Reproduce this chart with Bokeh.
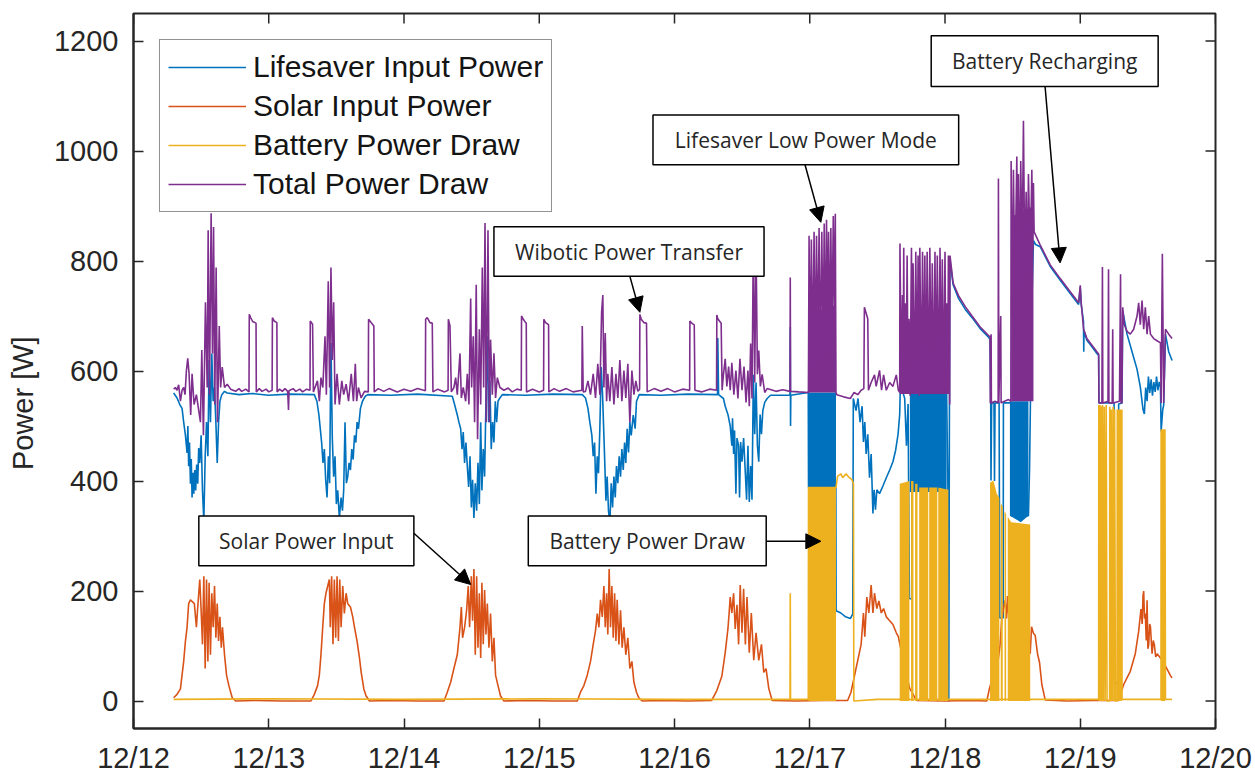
import math
from bokeh.plotting import figure
from bokeh.models import (Range1d, FixedTicker, Legend, LegendItem,
                          Label, BoxAnnotation, Arrow, NormalHead)
from bokeh.embed import file_html
from bokeh.resources import INLINE

NAN = float("nan")

# ---------------- axes / labels ----------------
tick_days = [0, 1, 2, 3, 4, 5, 6, 7, 8]
tick_labels = ["12/12", "12/13", "12/14", "12/15", "12/16", "12/17", "12/18", "12/19", "12/20"]
y_ticks = [0, 200, 400, 600, 800, 1000, 1200]
y_label = "Power [W]"
x_lim = (0, 8)
y_lim = (-50, 1250)

series_names = ["Lifesaver Input Power", "Solar Input Power", "Battery Power Draw", "Total Power Draw"]
series_colors = ["#0072BD", "#D95319", "#EDB120", "#7E2F8E"]

# ---------------- data: (days since 12/12 00:00, watts) ----------------
life_pts = [
    (0.297, 560), (0.322, 551), (0.342, 539), (0.359, 532), (0.371, 507), (0.384, 483), (0.396, 451),
    (0.402, 500), (0.408, 427), (0.414, 470), (0.421, 395), (0.427, 440), (0.433, 370), (0.440, 415),
    (0.446, 377), (0.453, 420), (0.460, 383), (0.467, 430), (0.475, 395), (0.482, 460), (0.490, 433),
    (0.500, 483), (0.510, 383), (0.520, 327), (0.530, 445), (0.540, 507), (0.550, 445), (0.559, 620),
    (0.569, 507), (0.579, 632), (0.589, 545), (0.599, 570), (0.609, 507), (0.619, 433), (0.629, 507),
    (0.639, 545), (0.653, 557), (0.673, 563), (0.693, 560), (0.780, 557), (0.880, 559), (1.000, 556),
    (1.150, 558), (1.337, 557),
    (1.356, 545), (1.371, 520), (1.381, 495), (1.391, 470), (1.401, 433), (1.411, 458), (1.421, 402),
    (1.431, 370), (1.441, 445), (1.450, 396), (1.460, 651), (1.470, 477), (1.480, 408), (1.490, 445),
    (1.500, 358), (1.510, 383), (1.522, 333), (1.535, 370), (1.545, 346), (1.554, 383), (1.564, 507),
    (1.574, 396), (1.584, 408), (1.594, 433), (1.604, 420), (1.614, 458), (1.624, 439), (1.634, 483),
    (1.644, 470), (1.653, 507), (1.663, 495), (1.678, 532), (1.693, 545), (1.713, 554), (1.733, 557),
    (1.900, 556), (2.100, 558),
    (2.357, 554), (2.374, 539), (2.394, 520), (2.406, 507), (2.419, 495), (2.429, 458), (2.438, 489),
    (2.448, 433), (2.458, 470), (2.468, 427), (2.478, 389), (2.488, 445), (2.498, 352), (2.507, 402),
    (2.517, 333), (2.527, 396), (2.537, 346), (2.547, 433), (2.557, 358), (2.567, 507), (2.576, 383),
    (2.586, 458), (2.596, 408), (2.606, 545), (2.616, 663), (2.626, 507), (2.635, 582), (2.645, 458),
    (2.655, 507), (2.665, 470), (2.675, 545), (2.685, 507), (2.695, 545), (2.709, 551), (2.727, 557),
    (2.900, 556), (3.100, 558),
    (3.318, 557), (3.342, 551), (3.360, 532), (3.374, 507), (3.389, 483), (3.399, 445), (3.409, 470),
    (3.419, 377), (3.429, 445), (3.438, 414), (3.448, 495), (3.458, 607), (3.468, 557), (3.483, 445),
    (3.493, 364), (3.502, 408), (3.512, 346), (3.522, 321), (3.532, 396), (3.542, 352), (3.552, 408),
    (3.562, 370), (3.571, 427), (3.581, 396), (3.591, 445), (3.601, 408), (3.611, 458), (3.621, 420),
    (3.631, 470), (3.640, 433), (3.650, 495), (3.660, 452), (3.670, 507), (3.680, 483), (3.695, 520),
    (3.709, 495), (3.719, 545), (3.729, 551), (3.739, 557), (3.900, 556), (4.100, 558),
    (4.318, 557), (4.320, 660), (4.326, 557), (4.362, 550), (4.375, 536), (4.395, 521), (4.412, 500),
    (4.424, 464), (4.429, 514), (4.437, 449), (4.444, 492), (4.454, 377), (4.462, 478), (4.474, 464),
    (4.481, 370), (4.489, 471), (4.499, 435), (4.511, 478), (4.524, 413), (4.533, 366), (4.543, 464),
    (4.553, 362), (4.563, 427), (4.573, 366), (4.583, 593), (4.593, 485), (4.603, 579), (4.613, 464),
    (4.623, 435), (4.633, 521), (4.643, 485), (4.653, 528), (4.667, 543), (4.685, 550), (4.710, 556),
    (4.854, 556), (4.856, 680), (4.858, 500), (4.860, 556), (4.989, 561),
    (4.991, 388), (5.193, 388), (5.195, 164), (5.230, 160), (5.265, 153), (5.300, 150), (5.318, 158),
    (5.322, 550), (5.342, 528), (5.357, 550), (5.372, 507), (5.387, 536), (5.397, 471), (5.407, 507),
    (5.417, 449), (5.429, 485), (5.442, 406), (5.454, 449), (5.467, 341), (5.476, 384), (5.486, 348),
    (5.496, 384), (5.516, 377), (5.541, 391), (5.566, 406), (5.591, 420), (5.615, 435), (5.635, 456),
    (5.653, 485), (5.665, 521), (5.677, 651), (5.690, 560), (5.702, 550), (5.715, 464), (5.727, 540),
    (5.737, 186), (5.755, 186), (5.757, 560), (5.764, 561), (6.012, 561), (6.022, 380), (6.025, 0),
    (6.028, 0), (6.035, 805), (6.060, 757), (6.100, 732), (6.150, 712), (6.200, 697), (6.260, 677),
    (6.320, 662), (6.333, 657), (6.338, 542), (6.340, 401), (6.345, 542), (6.362, 542), (6.366, 400),
    (6.370, 542), (6.400, 542), (6.405, 151), (6.430, 151), (6.432, 542), (6.488, 542), (6.489, 337),
    (6.617, 337), (6.625, 420), (6.640, 700), (6.654, 837), (6.670, 830), (6.704, 826), (6.778, 790),
    (6.852, 765), (6.926, 741), (6.988, 721), (7.000, 752), (7.007, 721), (7.024, 690), (7.026, 635),
    (7.028, 673), (7.049, 656), (7.074, 648), (7.123, 632), (7.136, 628), (7.138, 542),
    (7.250, 542), (7.252, 38), (7.270, 32), (7.282, 30), (7.284, 540), (7.309, 542), (7.314, 708),
    (7.321, 700), (7.346, 667), (7.383, 635), (7.420, 603), (7.444, 571), (7.464, 530), (7.474, 522),
    (7.484, 570), (7.494, 545), (7.504, 590), (7.514, 560), (7.524, 585), (7.534, 555), (7.544, 580),
    (7.554, 562), (7.564, 590), (7.574, 565), (7.584, 580), (7.593, 571), (7.598, 490), (7.610, 530),
    (7.617, 538), (7.630, 667), (7.654, 635), (7.679, 619),
]

solar_pts = [
    (0.297, 6), (0.322, 12), (0.347, 22), (0.359, 47), (0.371, 72), (0.384, 109), (0.396, 134),
    (0.408, 177), (0.421, 184), (0.433, 181), (0.450, 177), (0.465, 134), (0.475, 171), (0.490, 221),
    (0.500, 165), (0.510, 103), (0.520, 227), (0.530, 59), (0.540, 221), (0.550, 72), (0.559, 215),
    (0.569, 84), (0.579, 196), (0.589, 134), (0.599, 209), (0.609, 115), (0.619, 177), (0.629, 109),
    (0.639, 153), (0.649, 97), (0.658, 134), (0.673, 84), (0.688, 47), (0.705, 28), (0.730, 6),
    (0.755, 0), (0.900, 1), (1.100, 0), (1.312, 0),
    (1.337, 12), (1.361, 28), (1.374, 47), (1.386, 84), (1.399, 134), (1.411, 177), (1.423, 196),
    (1.436, 209), (1.448, 221), (1.455, 134), (1.465, 227), (1.475, 103), (1.485, 221), (1.495, 115),
    (1.505, 227), (1.515, 109), (1.525, 221), (1.535, 134), (1.547, 209), (1.559, 159), (1.572, 196),
    (1.584, 177), (1.604, 171), (1.621, 153), (1.634, 134), (1.653, 109), (1.671, 78), (1.683, 53),
    (1.703, 22), (1.720, 9), (1.745, 0), (1.900, 1), (2.100, 0), (2.296, 0),
    (2.320, 16), (2.345, 34), (2.369, 59), (2.394, 84), (2.414, 134), (2.424, 171), (2.433, 115),
    (2.448, 134), (2.463, 165), (2.475, 209), (2.485, 134), (2.498, 227), (2.507, 146), (2.517, 240),
    (2.527, 84), (2.537, 227), (2.547, 97), (2.557, 196), (2.567, 78), (2.576, 215), (2.586, 103),
    (2.596, 202), (2.606, 121), (2.616, 177), (2.628, 97), (2.640, 159), (2.653, 72), (2.665, 115),
    (2.677, 47), (2.695, 28), (2.714, 9), (2.739, 0), (2.900, 1), (3.100, 0), (3.281, 0),
    (3.305, 16), (3.330, 28), (3.355, 47), (3.379, 72), (3.399, 103), (3.416, 128), (3.429, 159),
    (3.441, 134), (3.453, 184), (3.466, 153), (3.478, 209), (3.488, 134), (3.498, 196), (3.507, 121),
    (3.517, 240), (3.527, 134), (3.537, 209), (3.547, 115), (3.557, 196), (3.567, 109), (3.576, 184),
    (3.589, 103), (3.601, 165), (3.613, 97), (3.626, 134), (3.640, 84), (3.655, 115), (3.670, 59),
    (3.685, 72), (3.700, 34), (3.719, 16), (3.736, 6), (3.761, 0), (3.900, 1), (4.100, 0), (4.275, 1),
    (4.313, 19), (4.350, 45), (4.375, 88), (4.395, 131), (4.404, 160), (4.412, 189), (4.424, 160),
    (4.437, 196), (4.449, 131), (4.462, 175), (4.474, 103), (4.486, 211), (4.499, 124), (4.511, 204),
    (4.524, 103), (4.536, 189), (4.553, 88), (4.568, 160), (4.586, 74), (4.603, 124), (4.623, 74),
    (4.643, 103), (4.660, 52), (4.677, 59), (4.697, 23), (4.722, 1), (4.900, 0), (5.100, 1), (5.280, 1),
    (5.305, 16), (5.330, 45), (5.355, 74), (5.380, 103), (5.397, 160), (5.407, 117), (5.422, 189),
    (5.437, 160), (5.454, 211), (5.467, 160), (5.479, 196), (5.496, 168), (5.511, 182), (5.529, 160),
    (5.546, 168), (5.566, 153), (5.591, 146), (5.615, 139), (5.640, 124), (5.655, 117), (5.690, 74),
    (5.739, 23), (5.789, 1), (6.000, 0), (6.200, 1), (6.309, 0),
    (6.328, 22), (6.346, 38), (6.358, 22), (6.383, 54), (6.407, 102), (6.420, 150), (6.432, 167),
    (6.444, 183), (6.455, 150), (6.462, 191), (6.470, 160), (6.477, 143), (6.494, 78), (6.531, 150),
    (6.568, 120), (6.600, 150), (6.610, 127), (6.620, 95), (6.630, 86), (6.640, 135), (6.654, 123),
    (6.667, 119), (6.684, 86), (6.699, 70), (6.716, 30), (6.741, 2), (6.900, 0), (7.100, 1), (7.284, 1),
    (7.321, 30), (7.370, 54), (7.407, 86), (7.432, 127), (7.449, 167), (7.458, 140), (7.464, 191),
    (7.469, 200), (7.475, 150), (7.481, 159), (7.488, 110), (7.494, 183), (7.500, 95), (7.506, 102),
    (7.513, 140), (7.519, 135), (7.531, 86), (7.540, 110), (7.548, 102), (7.558, 80), (7.568, 86),
    (7.593, 78), (7.617, 70), (7.642, 58), (7.667, 46), (7.679, 42),
]

battery_pts = [
    (0.297, 3), (1.000, 4), (2.000, 3), (3.000, 4), (4.000, 3), (4.854, 3), (4.856, 196), (4.858, 3),
    (4.989, 3), (4.991, 388), (5.194, 388), (5.206, 409), (5.231, 413), (5.243, 406), (5.268, 413),
    (5.293, 406), (5.313, 402), (5.323, 395), (5.326, 0), (5.500, 3), (5.664, 3), (6.030, 3),
    (6.200, 3), (6.640, 3), (7.000, 3), (7.136, 3),
    (7.137, 538), (7.141, 0), (7.145, 538), (7.150, 0), (7.155, 536), (7.160, 0), (7.165, 538),
    (7.171, 0), (7.178, 535), (7.184, 0), (7.192, 538), (7.198, 0), (7.217, 0), (7.218, 535),
    (7.224, 0), (7.230, 530), (7.236, 0), (7.243, 535), (7.249, 0), (7.254, 530), (7.260, 0),
    (7.272, 0), (7.274, 530), (7.279, 0), (7.284, 530), (7.290, 0), (7.296, 530), (7.302, 0),
    (7.308, 530), (7.309, 3), (7.400, 3), (7.597, 3), (7.598, 494), (7.602, 0), (7.606, 494),
    (7.611, 0), (7.616, 494), (7.621, 0), (7.626, 494), (7.630, 3), (7.679, 3),
]

total_pts = [
    (0.297, 567), (0.310, 570), (0.322, 565), (0.334, 575), (0.347, 545), (0.359, 565), (0.371, 570),
    (0.381, 557), (0.391, 600), (0.401, 623), (0.411, 595), (0.423, 520), (0.433, 595), (0.448, 539),
    (0.465, 557), (0.495, 507), (0.505, 638), (0.517, 483), (0.532, 725), (0.545, 570), (0.552, 856),
    (0.562, 557), (0.574, 887), (0.584, 632), (0.592, 862), (0.601, 539), (0.611, 788), (0.621, 507),
    (0.634, 682), (0.644, 570), (0.656, 607), (0.673, 570), (0.693, 576), (0.718, 567), (0.755, 563),
    (0.780, 568), (0.800, 563), (0.830, 567), (0.854, 562), (0.856, 703), (0.866, 697), (0.881, 690),
    (0.906, 687), (0.908, 562), (0.930, 568), (0.950, 563), (0.980, 567), (1.000, 562), (1.025, 565),
    (1.027, 697), (1.040, 691), (1.060, 688), (1.062, 562), (1.080, 567), (1.100, 563), (1.120, 568),
    (1.140, 563), (1.146, 529), (1.150, 564), (1.180, 568), (1.200, 563), (1.230, 567), (1.250, 562),
    (1.280, 567), (1.305, 565), (1.307, 691), (1.324, 685), (1.330, 562),
    (1.360, 582), (1.374, 545), (1.386, 588), (1.400, 570), (1.416, 663), (1.426, 557), (1.440, 763),
    (1.450, 570), (1.460, 788), (1.470, 620), (1.480, 725), (1.490, 539), (1.505, 595), (1.522, 539),
    (1.540, 582), (1.554, 557), (1.572, 576), (1.590, 545), (1.610, 595), (1.626, 545), (1.640, 613),
    (1.650, 545), (1.663, 570), (1.683, 551), (1.708, 563), (1.736, 562),
    (1.738, 694), (1.757, 688), (1.777, 682), (1.780, 562), (1.810, 568), (1.850, 563), (1.890, 568),
    (1.950, 562), (2.000, 567), (2.050, 563), (2.100, 568), (2.158, 564), (2.160, 694), (2.172, 697),
    (2.192, 688), (2.209, 687), (2.214, 562), (2.250, 567), (2.300, 562), (2.326, 565), (2.328, 694),
    (2.340, 682), (2.350, 562),
    (2.369, 570), (2.382, 588), (2.394, 557), (2.414, 632), (2.424, 551), (2.438, 570), (2.456, 545),
    (2.468, 595), (2.480, 539), (2.493, 732), (2.500, 570), (2.512, 663), (2.522, 507), (2.534, 757),
    (2.544, 476), (2.557, 676), (2.567, 539), (2.579, 788), (2.589, 570), (2.599, 869), (2.608, 507),
    (2.621, 856), (2.631, 507), (2.640, 657), (2.653, 557), (2.665, 632), (2.677, 551), (2.690, 588),
    (2.709, 570), (2.739, 565), (2.770, 569), (2.800, 562), (2.835, 567), (2.867, 565),
    (2.869, 700), (2.882, 694), (2.899, 688), (2.904, 687), (2.906, 562), (2.950, 567), (3.000, 562),
    (3.032, 565), (3.034, 694), (3.047, 688), (3.064, 685), (3.069, 684), (3.071, 562), (3.110, 568),
    (3.150, 563), (3.200, 568), (3.250, 562), (3.315, 565), (3.318, 682), (3.325, 562),
    (3.342, 563), (3.360, 582), (3.379, 557), (3.399, 595), (3.416, 551), (3.433, 613), (3.448, 557),
    (3.461, 707), (3.470, 738), (3.478, 570), (3.488, 669), (3.498, 545), (3.507, 595), (3.522, 545),
    (3.537, 607), (3.552, 539), (3.567, 595), (3.581, 551), (3.596, 620), (3.611, 545), (3.626, 601),
    (3.640, 551), (3.655, 613), (3.670, 507), (3.685, 601), (3.700, 557), (3.714, 582), (3.729, 563),
    (3.742, 567), (3.744, 703), (3.754, 694), (3.773, 688), (3.793, 687), (3.798, 562), (3.850, 568),
    (3.900, 563), (3.950, 568), (4.000, 562), (4.060, 567), (4.112, 565), (4.114, 691), (4.127, 687),
    (4.146, 684), (4.151, 565), (4.200, 562), (4.260, 567), (4.311, 565), (4.313, 702), (4.320, 695),
    (4.345, 687), (4.352, 565),
    (4.362, 594), (4.375, 622), (4.387, 572), (4.400, 608), (4.412, 565), (4.424, 615), (4.439, 557),
    (4.454, 601), (4.469, 550), (4.484, 622), (4.499, 565), (4.514, 608), (4.529, 543), (4.543, 601),
    (4.553, 536), (4.563, 650), (4.573, 550), (4.583, 846), (4.593, 579), (4.603, 831), (4.613, 594),
    (4.623, 637), (4.635, 572), (4.648, 594), (4.667, 561), (4.685, 568), (4.750, 563), (4.800, 566),
    (4.854, 563), (4.856, 770), (4.858, 563), (4.920, 562), (4.990, 561),
    (4.995, 846), (5.002, 600), (5.012, 839), (5.022, 620), (5.032, 853), (5.042, 600), (5.050, 846),
    (5.060, 640), (5.069, 860), (5.079, 620), (5.089, 853), (5.099, 640), (5.107, 868), (5.117, 620),
    (5.124, 875), (5.132, 660), (5.139, 853), (5.146, 640), (5.156, 860), (5.164, 660), (5.174, 882),
    (5.181, 700), (5.189, 886), (5.194, 561), (5.200, 557), (5.250, 553), (5.300, 550), (5.328, 561),
    (5.355, 557), (5.380, 565), (5.400, 568), (5.404, 716), (5.417, 705), (5.429, 695), (5.434, 565),
    (5.454, 579), (5.479, 593), (5.491, 572), (5.516, 601), (5.531, 565), (5.546, 593), (5.566, 565),
    (5.591, 579), (5.615, 572), (5.640, 593), (5.655, 565), (5.665, 561),
    (5.667, 832), (5.677, 565), (5.685, 738), (5.690, 565), (5.695, 824), (5.700, 560), (5.705, 723),
    (5.712, 560), (5.720, 810), (5.727, 560), (5.734, 695), (5.742, 555), (5.752, 824), (5.759, 560),
    (5.764, 796), (5.774, 560), (5.784, 817), (5.794, 560), (5.801, 810), (5.809, 555), (5.814, 824),
    (5.824, 560), (5.834, 817), (5.841, 560), (5.851, 810), (5.859, 560), (5.868, 817), (5.878, 560),
    (5.888, 824), (5.898, 560), (5.906, 796), (5.916, 560), (5.926, 817), (5.933, 560), (5.943, 810),
    (5.953, 560), (5.963, 824), (5.973, 560), (5.980, 803), (5.990, 560), (6.000, 817), (6.007, 560),
    (6.012, 723), (6.020, 560), (6.025, 810), (6.035, 539),
    (6.037, 810), (6.060, 760), (6.100, 737), (6.150, 717), (6.200, 700), (6.260, 680), (6.320, 665),
    (6.333, 662), (6.335, 542), (6.339, 542), (6.341, 667), (6.343, 542), (6.370, 545), (6.393, 542),
    (6.395, 950), (6.398, 542), (6.412, 700), (6.415, 542), (6.440, 545), (6.470, 548), (6.487, 545),
    (6.489, 982), (6.496, 700), (6.506, 966), (6.516, 750), (6.531, 990), (6.538, 760), (6.543, 958),
    (6.551, 750), (6.560, 982), (6.570, 800), (6.580, 1055), (6.590, 780), (6.600, 926), (6.607, 760),
    (6.617, 958), (6.630, 800), (6.642, 966), (6.649, 820), (6.654, 942), (6.659, 853), (6.704, 829),
    (6.778, 793), (6.852, 768), (6.926, 744), (6.988, 724), (7.000, 756), (7.007, 724), (7.025, 676),
    (7.049, 659), (7.074, 651), (7.123, 635), (7.136, 631), (7.138, 542),
    (7.160, 542), (7.164, 789), (7.167, 542), (7.205, 545), (7.209, 785), (7.212, 542), (7.236, 542),
    (7.240, 676), (7.243, 542), (7.290, 545), (7.298, 776), (7.302, 542), (7.308, 542),
    (7.314, 716), (7.326, 684), (7.346, 672), (7.370, 667), (7.395, 676), (7.420, 700), (7.432, 724),
    (7.444, 684), (7.457, 728), (7.469, 676), (7.481, 716), (7.494, 667), (7.506, 700), (7.519, 667),
    (7.543, 659), (7.568, 655), (7.593, 651), (7.598, 542), (7.607, 813), (7.617, 542), (7.630, 676),
    (7.654, 667), (7.679, 659),
]

# dense (solid-looking) stretches: envelope, NaN separates blocks
life_band_t = [4.990, 5.194, NAN, 5.740, 6.012, NAN, 6.480, 6.560, 6.617]
life_band_lo = [388, 388, NAN, 380, 380, NAN, 337, 325, 337]
life_band_hi = [561, 561, NAN, 561, 561, NAN, 545, 545, 545]

battery_band_t = [4.990, 5.194, NAN, 5.665, 5.737, NAN, 5.749, 5.767, NAN, 5.779, 5.797, NAN,
                  5.809, 5.876, NAN, 5.883, 5.943, NAN, 5.950, 6.025, NAN,
                  6.333, 6.358, 6.383, 6.402, NAN, 6.412, 6.427, NAN, 6.440, 6.452, NAN,
                  6.464, 6.490, 6.630]
battery_band_hi = [388, 388, NAN, 395, 400, NAN, 400, 400, NAN, 395, 395, NAN,
                   388, 388, NAN, 388, 388, NAN, 388, 384, NAN,
                   397, 401, 377, 369, NAN, 360, 353, NAN, 345, 340, NAN,
                   335, 325, 321]

total_band_t = [4.990, 5.194, NAN, 5.665, 6.035, NAN, 6.489, 6.654]
total_band_lo = [561, 561, NAN, 558, 558, NAN, 545, 545]
total_band_hi = [705, 720, NAN, 690, 690, NAN, 880, 900]

# annotations (text boxes + arrows), in data units
ann_texts = ["Battery Recharging", "Lifesaver Low Power Mode", "Wibotic Power Transfer",
             "Solar Power Input", "Battery Power Draw"]
ann_left = [5.898, 3.841, 2.665, 0.483, 2.919]
ann_right = [7.576, 6.101, 4.662, 2.073, 4.678]
ann_bottom = [1117.2, 975.0, 772.1, 246.0, 246.0]
ann_top = [1209.6, 1065.4, 862.3, 336.2, 336.2]
arrow_x0 = [6.740, 4.965, 3.670, 2.073, 4.678]
arrow_y0 = [1117.2, 975.0, 772.1, 305.1, 290.4]
arrow_x1 = [6.851, 5.082, 3.744, 2.493, 5.082]
arrow_y1 = [796.6, 870.3, 706.7, 211.8, 290.4]

# ---------------- figure ----------------
AX = "#262626"
p = figure(frame_width=1082, frame_height=715,
           x_range=Range1d(*x_lim), y_range=Range1d(*y_lim),
           output_backend="svg", toolbar_location=None,
           min_border_left=133, min_border_top=13, min_border_right=38, min_border_bottom=47)
p.background_fill_color = "white"
p.border_fill_color = "white"
p.outline_line_color = AX
p.outline_line_width = 2
p.xgrid.visible = False
p.ygrid.visible = False


def style_axis(ax):
    ax.major_tick_in = 10
    ax.major_tick_out = 0
    ax.minor_tick_in = 0
    ax.minor_tick_out = 0
    ax.minor_tick_line_color = None
    ax.major_tick_line_color = AX
    ax.major_tick_line_width = 1.5
    ax.axis_line_color = AX
    ax.axis_line_width = 2
    ax.major_label_text_font = "Liberation Sans"
    ax.major_label_text_font_size = "29px"
    ax.major_label_text_color = AX


xa = p.xaxis[0]
xa.ticker = FixedTicker(ticks=tick_days)
xa.major_label_overrides = {d: lab for d, lab in zip(tick_days, tick_labels)}
style_axis(xa)
xa.major_label_standoff = 13

ya = p.yaxis[0]
ya.ticker = FixedTicker(ticks=y_ticks)
style_axis(ya)
ya.major_label_standoff = 15
# trailing no-break spaces nudge the centred label a little lower, as in the original
ya.axis_label = y_label + "\u00a0" * 8
ya.axis_label_text_font = "Liberation Sans"
ya.axis_label_text_font_size = "29px"
ya.axis_label_text_font_style = "normal"
ya.axis_label_text_color = AX
ya.axis_label_standoff = 12

# inward ticks on the top and right edges of the box (MATLAB "box on")
p.ray(x=tick_days, y=[y_lim[1]] * len(tick_days), length=10, length_units="screen",
      angle=-math.pi / 2, line_color=AX, line_width=1.5)
p.ray(x=[x_lim[1]] * len(y_ticks), y=y_ticks, length=10, length_units="screen",
      angle=math.pi, line_color=AX, line_width=1.5)


def split_nan(t, lo, hi):
    segs, cur = [], ([], [], [])
    for a, b, c in zip(t, lo, hi):
        if math.isnan(a):
            if cur[0]:
                segs.append(cur)
            cur = ([], [], [])
        else:
            cur[0].append(a); cur[1].append(b); cur[2].append(c)
    if cur[0]:
        segs.append(cur)
    return segs


def unzip(pts):
    return [a for a, _ in pts], [b for _, b in pts]


LW = 1.6
# Lifesaver
for t, lo, hi in split_nan(life_band_t, life_band_lo, life_band_hi):
    p.varea(x=t, y1=lo, y2=hi, fill_color=series_colors[0])
x, y = unzip(life_pts)
r_life = p.line(x, y, line_color=series_colors[0], line_width=LW)
# Solar
x, y = unzip(solar_pts)
r_solar = p.line(x, y, line_color=series_colors[1], line_width=LW)
# Battery
battery_band_lo = [NAN if math.isnan(v) else 0 for v in battery_band_t]
for t, lo, hi in split_nan(battery_band_t, battery_band_lo, battery_band_hi):
    p.varea(x=t, y1=lo, y2=hi, fill_color=series_colors[2])
x, y = unzip(battery_pts)
r_batt = p.line(x, y, line_color=series_colors[2], line_width=LW)
# Total
for t, lo, hi in split_nan(total_band_t, total_band_lo, total_band_hi):
    p.varea(x=t, y1=lo, y2=hi, fill_color=series_colors[3])
x, y = unzip(total_pts)
r_total = p.line(x, y, line_color=series_colors[3], line_width=LW)

legend = Legend(items=[LegendItem(label=n, renderers=[r]) for n, r in
                       zip(series_names, [r_life, r_solar, r_batt, r_total])],
                location="top_left")
legend.margin = 26
legend.padding = 8
legend.spacing = 1
legend.glyph_width = 78
legend.glyph_height = 38
legend.label_height = 38
legend.label_standoff = 7
legend.label_text_font = "Liberation Sans"
legend.label_text_font_size = "30px"
legend.label_text_color = "#141414"
legend.border_line_color = AX
legend.border_line_width = 1.5
legend.background_fill_color = "white"
legend.background_fill_alpha = 1.0
p.add_layout(legend)

for i, txt in enumerate(ann_texts):
    p.add_layout(BoxAnnotation(left=ann_left[i], right=ann_right[i], bottom=ann_bottom[i], top=ann_top[i],
                               fill_color="white", fill_alpha=1.0, line_color="black", line_width=1.5,
                               line_alpha=1.0))
    p.add_layout(Label(x=(ann_left[i] + ann_right[i]) / 2, y=(ann_bottom[i] + ann_top[i]) / 2,
                       text=txt, text_align="center", text_baseline="middle",
                       text_font="Open Sans", text_font_size="21px", text_color="#262626"))
    p.add_layout(Arrow(x_start=arrow_x0[i], y_start=arrow_y0[i], x_end=arrow_x1[i], y_end=arrow_y1[i],
                       line_color="black", line_width=1.5,
                       end=NormalHead(size=15, fill_color="black", line_color="black", line_width=1)))

open("out.html", "w").write(file_html(p, INLINE))
